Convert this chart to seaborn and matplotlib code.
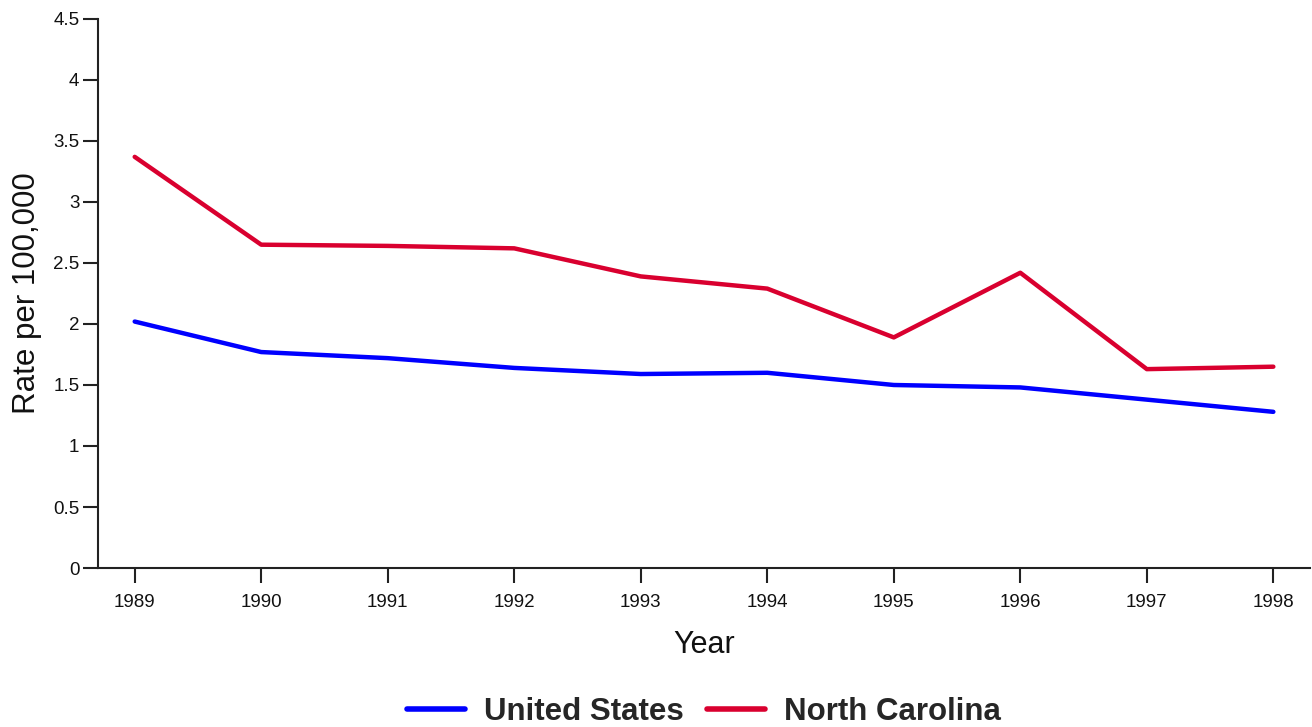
import pandas as pd
import seaborn as sns
import matplotlib.pyplot as plt

years = [1989, 1990, 1991, 1992, 1993, 1994, 1995, 1996, 1997, 1998]
us_rate = [2.02, 1.77, 1.72, 1.64, 1.59, 1.60, 1.50, 1.48, 1.38, 1.28]
nc_rate = [3.37, 2.65, 2.64, 2.62, 2.39, 2.29, 1.89, 2.42, 1.63, 1.65]
series = ["United States", "North Carolina"]
colors = ["#0000FF", "#D9002F"]
y_ticks = [0, 0.5, 1, 1.5, 2, 2.5, 3, 3.5, 4, 4.5]
y_labels = ["0", "0.5", "1", "1.5", "2", "2.5", "3", "3.5", "4", "4.5"]

df = pd.DataFrame({
    "Year": years * 2,
    "Rate": us_rate + nc_rate,
    "Area": [series[0]] * len(years) + [series[1]] * len(years),
})

sns.set_style("ticks")
plt.rcParams["font.family"] = ["Liberation Sans", "DejaVu Sans"]

fig = plt.figure(figsize=(13.12, 7.27), dpi=100)
ax = fig.add_axes([0.0747, 0.2187, 0.9238, 0.7552])

sns.lineplot(data=df, x="Year", y="Rate", hue="Area", palette=colors,
             hue_order=series, linewidth=3.2, ax=ax)

ax.set_xlim(1988.71, 1998.29)
ax.set_ylim(0, 4.5)
ax.set_xticks(years)
ax.set_xticklabels([str(y) for y in years], fontsize=13.5)
ax.set_yticks(y_ticks)
ax.set_yticklabels(y_labels, fontsize=13.5)
ax.tick_params(axis="both", direction="out", length=10.5, width=1.5,
               color="#222222", labelcolor="#111111")
ax.tick_params(axis="x", pad=8)
ax.tick_params(axis="y", pad=3)
ax.set_xlabel("Year", fontsize=22, labelpad=14, color="#111111")
ax.set_ylabel("Rate per 100,000", fontsize=22.5, labelpad=8, color="#111111")

for side in ["top", "right"]:
    ax.spines[side].set_visible(False)
for side in ["left", "bottom"]:
    ax.spines[side].set_linewidth(1.5)
    ax.spines[side].set_color("#222222")

handles, labels = ax.get_legend_handles_labels()
for h in handles:
    h.set_linewidth(4)
ax.legend(handles, labels, loc="center", bbox_to_anchor=(0.5, -0.262),
          ncol=2, frameon=False, prop={"size": 22.5, "weight": "bold"},
          handlelength=1.85, columnspacing=0.75, handletextpad=0.6)

fig.savefig("out.png", dpi=100)
